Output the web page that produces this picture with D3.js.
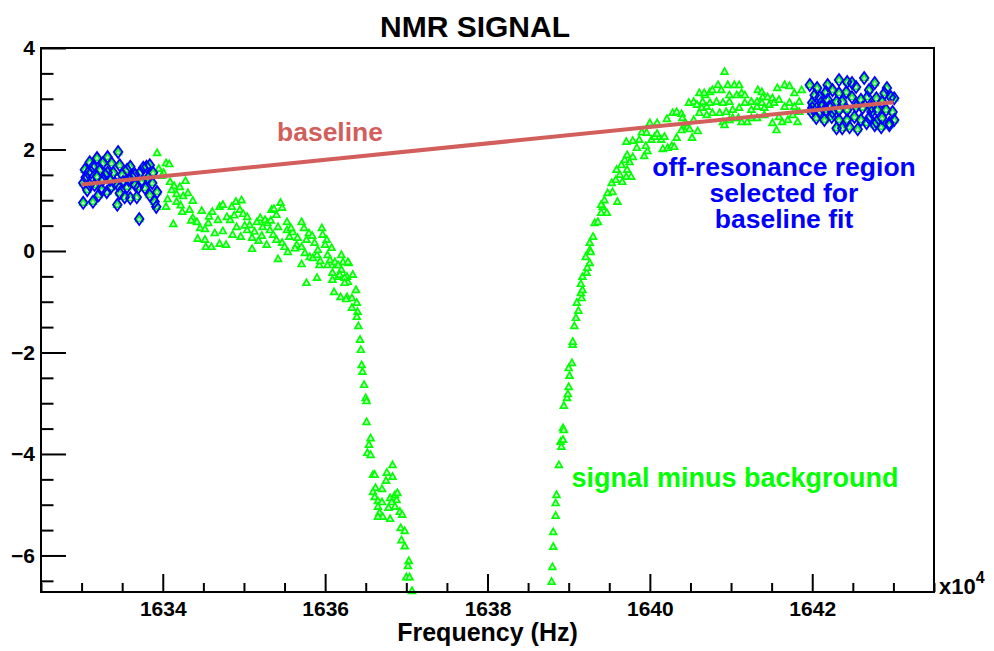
<!DOCTYPE html>
<html>
<head>
<meta charset="utf-8">
<script src="https://cdn.jsdelivr.net/npm/d3@7"></script>
<style>
  html, body { margin: 0; padding: 0; background: #fff; }
  svg text { font-family: "Liberation Sans", Arial, Helvetica, sans-serif; font-weight: bold; }
</style>
</head>
<body>
<svg id="chart" width="994" height="651"></svg>
<script>
// frequency in units of 10^4 Hz, signal in arbitrary units
const offResLow = [
  [1633.02, 1.34], [1633.07, 1.20], [1633.02, 0.95], [1633.14, 0.97], [1633.10, 1.75],
  [1633.19, 1.83], [1633.14, 1.66], [1633.08, 1.54], [1633.19, 1.46], [1633.23, 1.60],
  [1633.16, 1.30], [1633.25, 1.20], [1633.31, 1.16], [1633.32, 1.85], [1633.37, 1.73],
  [1633.32, 1.54], [1633.39, 1.54], [1633.41, 1.34], [1633.45, 1.95], [1633.47, 1.69],
  [1633.50, 1.50], [1633.51, 1.36], [1633.44, 0.91], [1633.47, 1.14], [1633.53, 1.06],
  [1633.56, 1.60], [1633.60, 1.66], [1633.62, 1.46], [1633.66, 1.30], [1633.72, 1.54],
  [1633.76, 1.64], [1633.80, 1.66], [1633.84, 1.69], [1633.88, 1.54], [1633.82, 1.44],
  [1633.74, 1.36], [1633.78, 1.24], [1633.87, 1.34], [1633.93, 1.16], [1633.90, 0.97],
  [1633.92, 0.87], [1633.60, 1.04], [1633.68, 1.06], [1633.71, 0.63], [1633.04, 1.60],
  [1633.26, 1.73], [1633.56, 1.26], [1633.35, 1.40], [1633.26, 1.40], [1633.10, 1.30],
  [1633.29, 1.50], [1633.45, 1.30], [1633.66, 1.50], [1633.84, 1.10], [1633.21, 1.10],
  [1633.05, 1.45], [1633.12, 1.55], [1633.36, 1.25], [1633.58, 1.40], [1633.70, 1.25]
];

const offResHigh = [
  [1641.97, 3.27], [1642.06, 3.21], [1642.03, 3.07], [1642.09, 3.03], [1642.17, 3.13],
  [1642.19, 3.27], [1642.33, 3.37], [1642.25, 3.17], [1642.33, 3.11], [1642.43, 3.33],
  [1642.49, 3.31], [1642.54, 3.23], [1642.42, 3.13], [1642.64, 3.41], [1642.77, 3.31],
  [1642.70, 3.17], [1642.92, 3.21], [1642.89, 3.11], [1643.01, 3.01], [1642.97, 3.03],
  [1642.00, 2.92], [1642.11, 2.92], [1642.19, 2.98], [1642.30, 2.94], [1642.37, 2.94],
  [1642.49, 3.03], [1642.60, 2.98], [1642.68, 3.03], [1642.79, 3.01], [1642.86, 2.94],
  [1641.99, 2.74], [1642.09, 2.74], [1642.17, 2.78], [1642.25, 2.74], [1642.33, 2.78],
  [1642.43, 2.78], [1642.54, 2.84], [1642.62, 2.82], [1642.73, 2.84], [1642.80, 2.78],
  [1642.91, 2.78], [1642.99, 2.74], [1642.05, 2.62], [1642.15, 2.58], [1642.24, 2.64],
  [1642.33, 2.58], [1642.43, 2.58], [1642.52, 2.64], [1642.60, 2.58], [1642.70, 2.62],
  [1642.79, 2.54], [1642.86, 2.62], [1642.95, 2.52], [1643.01, 2.58], [1642.30, 2.42],
  [1642.37, 2.42], [1642.46, 2.44], [1642.56, 2.40], [1642.67, 2.52], [1642.77, 2.48],
  [1642.85, 2.44], [1642.95, 2.48], [1642.00, 2.82], [1642.12, 2.84], [1642.21, 2.84],
  [1642.73, 2.74]
];

const shoulder = [
  [1633.93, 1.93], [1634.04, 1.73], [1634.08, 1.71], [1633.95, 1.62], [1634.01, 1.54],
  [1633.99, 1.48], [1634.09, 1.36], [1634.14, 1.28], [1634.21, 1.26], [1634.28, 1.38],
  [1634.11, 1.20], [1634.17, 1.12], [1634.25, 1.08], [1634.31, 1.14], [1634.04, 0.87],
  [1634.06, 1.02], [1634.17, 0.97], [1634.24, 0.77], [1634.37, 0.99], [1634.13, 0.53],
  [1634.33, 0.81], [1634.37, 0.65], [1634.42, 0.57], [1634.48, 0.79], [1634.46, 0.45],
  [1634.52, 0.43], [1634.43, 0.24], [1634.52, 0.22], [1634.53, 0.08], [1634.60, 0.08],
  [1634.61, 0.77], [1634.68, 0.61], [1634.70, 0.87], [1634.74, 0.91], [1634.79, 0.67],
  [1634.83, 0.61], [1634.85, 0.87], [1634.90, 0.97], [1634.95, 0.81], [1634.97, 1.00],
  [1634.99, 0.73], [1635.04, 0.67], [1634.91, 0.47], [1634.86, 0.32], [1634.96, 0.28],
  [1634.74, 0.39], [1634.70, 0.14], [1634.78, 0.12], [1635.07, 0.51], [1635.04, 0.41],
  [1635.10, 0.26], [1635.16, 0.57], [1635.20, 0.65], [1635.23, 0.47], [1635.26, 0.61],
  [1635.29, 0.55], [1635.10, 0.04], [1635.34, 0.81], [1635.37, 0.83], [1635.40, 0.71],
  [1635.45, 0.95], [1635.47, 0.85], [1635.32, 0.41], [1635.36, 0.32], [1635.28, 0.12],
  [1635.42, 0.47], [1635.40, 0.22], [1635.47, 0.16], [1635.42, -0.16], [1635.53, 0.57],
  [1635.53, 0.41], [1635.56, 0.28], [1635.60, 0.37], [1635.50, 0.08], [1635.54, -0.02],
  [1635.65, 0.12], [1635.66, 0.26], [1635.71, 0.57], [1635.74, 0.45], [1635.77, 0.22],
  [1635.80, 0.35], [1635.71, 0.08], [1635.75, -0.04], [1635.81, -0.12], [1635.85, -0.14],
  [1635.90, -0.08], [1635.91, 0.02], [1635.87, 0.16], [1635.96, 0.45], [1635.97, 0.32],
  [1636.02, 0.22], [1636.00, 0.12], [1636.03, -0.08], [1636.06, -0.18], [1636.08, 0.06],
  [1635.71, -0.26], [1635.77, -0.63], [1635.90, -0.53], [1635.93, -0.28], [1636.03, -0.28],
  [1636.09, -0.43], [1636.14, -0.28], [1636.16, -0.51], [1636.20, -0.08], [1636.22, -0.22],
  [1636.20, -0.37], [1636.27, -0.51], [1636.29, -0.24], [1636.28, -0.61], [1636.34, -0.47],
  [1636.11, -0.81], [1636.19, -0.91], [1636.27, -0.91], [1636.33, -0.93], [1636.38, -0.77],
  [1634.35, 0.60], [1634.56, 0.55], [1634.64, 0.35], [1634.88, 0.70], [1635.01, 0.50],
  [1635.13, 0.38], [1635.18, 0.20], [1635.33, 0.60], [1635.58, 0.45], [1635.63, 0.05],
  [1635.84, 0.30], [1635.94, -0.20], [1634.22, 0.90], [1634.57, 0.68], [1635.22, 0.30]
];

const dipLow = [
  [1636.12, -0.22], [1636.16, -0.28], [1636.28, -0.22], [1636.18, -0.47], [1636.24, -0.53],
  [1636.09, -0.57], [1636.24, -0.63], [1636.26, -0.95], [1636.33, -1.12], [1636.39, -1.02],
  [1636.40, -1.20], [1636.39, -1.30], [1636.41, -1.48], [1636.43, -1.75], [1636.44, -1.95],
  [1636.45, -2.25], [1636.46, -2.38], [1636.48, -2.64], [1636.50, -2.90], [1636.51, -2.96],
  [1636.51, -3.37], [1636.56, -3.69], [1636.54, -3.82], [1636.52, -3.98], [1636.56, -4.02],
  [1636.59, -4.41], [1636.61, -4.41], [1636.83, -4.22], [1636.76, -4.37], [1636.83, -4.45],
  [1636.75, -4.53], [1636.62, -4.67], [1636.59, -4.75], [1636.70, -4.69], [1636.61, -4.85],
  [1636.65, -4.93], [1636.70, -4.95], [1636.80, -4.87], [1636.86, -4.81], [1636.89, -4.77],
  [1636.88, -4.91], [1636.82, -4.95], [1636.78, -5.06], [1636.86, -5.04], [1636.65, -5.04],
  [1636.67, -5.16], [1636.71, -5.24], [1636.65, -5.24], [1636.80, -5.28], [1636.92, -5.14],
  [1636.95, -5.20], [1636.93, -5.46], [1636.98, -5.52], [1636.94, -5.70], [1636.98, -5.82],
  [1637.03, -6.11], [1637.02, -6.21], [1637.00, -6.43], [1637.04, -6.43], [1637.07, -6.70]
];

const riseHigh = [
  [1638.79, -6.52], [1638.80, -6.23], [1638.81, -5.83], [1638.81, -5.54], [1638.84, -5.22],
  [1638.84, -4.97], [1638.85, -4.81], [1638.88, -4.22], [1638.91, -3.86], [1638.90, -3.76],
  [1638.93, -3.72], [1638.93, -3.49], [1638.94, -3.53], [1638.94, -3.05], [1638.98, -2.90],
  [1638.99, -2.82], [1639.00, -2.68], [1639.01, -2.46], [1639.00, -2.31], [1639.04, -2.21],
  [1639.05, -1.85], [1639.05, -1.79], [1639.07, -1.48], [1639.09, -1.32], [1639.12, -1.18],
  [1639.10, -1.02], [1639.16, -0.93], [1639.15, -0.83], [1639.17, -0.77], [1639.15, -0.65],
  [1639.17, -0.51], [1639.22, -0.43], [1639.23, -0.33], [1639.26, -0.24], [1639.21, -0.12],
  [1639.26, 0.02], [1639.26, 0.16], [1639.30, 0.28], [1639.27, -0.02], [1639.32, 0.55],
  [1639.36, 0.57], [1639.40, 0.75], [1639.42, 0.87], [1639.47, 0.75], [1639.40, 0.91],
  [1639.44, 1.00], [1639.48, 1.14], [1639.54, 1.16], [1639.60, 0.97], [1639.53, 1.34],
  [1639.58, 1.40], [1639.63, 1.50], [1639.59, 1.60], [1639.66, 1.36], [1639.71, 1.46],
  [1639.77, 1.46], [1639.72, 1.60], [1639.75, 1.75], [1639.69, 1.79], [1639.65, 1.69],
  [1639.72, 1.89], [1639.79, 1.85], [1639.84, 2.03], [1639.71, 2.15], [1639.79, 2.17],
  [1639.87, 2.19], [1639.93, 1.87], [1639.97, 1.97], [1639.95, 2.07], [1639.90, 2.34],
  [1639.96, 2.33], [1640.00, 2.52], [1640.02, 2.19], [1640.06, 2.25], [1640.09, 2.31],
  [1640.14, 2.19], [1640.18, 2.25], [1640.16, 2.01], [1640.22, 2.03], [1640.27, 2.07],
  [1640.30, 2.05], [1640.33, 2.23], [1640.21, 2.60], [1640.09, 2.52], [1640.28, 2.72],
  [1640.33, 2.74], [1640.39, 2.70], [1640.40, 2.62], [1640.43, 2.48], [1640.46, 2.44],
  [1640.52, 2.23], [1640.49, 2.40], [1640.54, 2.94], [1640.58, 2.88], [1640.61, 3.11],
  [1640.64, 2.82], [1640.65, 2.94], [1640.68, 3.07], [1640.70, 2.84], [1640.59, 2.36]
];

const plateau = [
  [1640.44, 2.52], [1640.39, 2.38], [1640.54, 2.58], [1640.48, 2.92], [1640.67, 3.11],
  [1640.74, 3.13], [1640.77, 3.17], [1640.84, 3.27], [1640.88, 3.17], [1640.92, 3.53],
  [1640.96, 3.27], [1641.04, 3.27], [1641.10, 3.27], [1640.98, 3.07], [1641.07, 3.07],
  [1641.13, 3.11], [1641.17, 3.07], [1640.74, 2.92], [1640.82, 2.94], [1640.90, 2.92],
  [1640.98, 2.94], [1640.77, 2.72], [1640.86, 2.72], [1640.94, 2.74], [1641.02, 2.78],
  [1641.10, 2.82], [1641.17, 2.92], [1640.61, 2.72], [1640.70, 2.68], [1640.90, 2.54],
  [1640.98, 2.58], [1640.92, 2.48], [1641.02, 2.62], [1641.33, 3.17], [1641.38, 3.13],
  [1641.25, 2.94], [1641.32, 2.94], [1641.39, 3.03], [1641.45, 3.03], [1641.51, 3.01],
  [1641.57, 3.21], [1641.66, 3.27], [1641.72, 3.25], [1641.78, 3.11], [1641.87, 3.17],
  [1641.25, 2.78], [1641.32, 2.84], [1641.38, 2.92], [1641.41, 2.82], [1641.47, 2.88],
  [1641.53, 2.92], [1641.59, 2.98], [1641.66, 2.84], [1641.72, 2.92], [1641.78, 2.84],
  [1641.84, 2.94], [1641.25, 2.62], [1641.32, 2.62], [1641.41, 2.68], [1641.51, 2.52],
  [1641.59, 2.64], [1641.56, 2.38], [1641.63, 2.54], [1641.70, 2.58], [1641.76, 2.68],
  [1641.82, 2.54], [1641.84, 2.74], [1641.20, 2.54], [1641.09, 2.62], [1641.13, 2.54]
];

const baselineFit = [[1633.0, 1.31], [1643.0, 2.93]];

const xMajorTicks = [1634, 1636, 1638, 1640, 1642];
const yMajorTicks = [-6, -4, -2, 0, 2, 4];
const xDomain = [1632.5, 1643.5];
const yDomain = [-6.72, 4];

const titleText = 'NMR SIGNAL';
const xTitleText = 'Frequency (Hz)';
const offResLines = ['off-resonance region', 'selected for', 'baseline fit'];

(function () {
  'use strict';
  const svg = d3.select('#chart');
  const frame = { left: 41, right: 934, top: 48, bottom: 592 };

  const x = d3.scaleLinear().domain(xDomain).range([frame.left, frame.right]);
  const y = d3.scaleLinear().domain(yDomain).range([frame.bottom, frame.top]);

  function minorTicks(domain, step) {
    const out = [];
    const start = Math.ceil(domain[0] / step) * step;
    for (let v = start; v <= domain[1] + 1e-9; v += step) out.push(+v.toFixed(4));
    return out;
  }
  const xMinor = minorTicks(xDomain, 0.5).filter(function (v) { return xMajorTicks.indexOf(v) < 0; });
  const yMinor = minorTicks(yDomain, 0.5).filter(function (v) { return yMajorTicks.indexOf(v) < 0; });

  svg.append('rect').attr('width', 994).attr('height', 651).attr('fill', '#fff');

  // signal points (green open triangles), all regions
  const signal = offResLow.concat(shoulder, dipLow, riseHigh, plateau, offResHigh);
  const tri = 'M0,-3.8L3.4,2.3L-3.4,2.3Z';
  svg.append('g').selectAll('path').data(signal).join('path')
    .attr('d', tri)
    .attr('transform', function (d) { return 'translate(' + x(d[0]) + ',' + y(d[1]) + ')'; })
    .attr('fill', '#c8ffc8')
    .attr('stroke', '#00ff00')
    .attr('stroke-width', 1.7);

  // off-resonance points (blue open diamonds)
  const dia = 'M0,-6L4.3,0L0,6L-4.3,0Z';
  svg.append('g').selectAll('path').data(offResLow.concat(offResHigh)).join('path')
    .attr('d', dia)
    .attr('transform', function (d) { return 'translate(' + x(d[0]) + ',' + y(d[1]) + ')'; })
    .attr('fill', 'none')
    .attr('stroke', '#0000ff')
    .attr('stroke-width', 1.8);

  // baseline fit
  svg.append('path')
    .datum(baselineFit)
    .attr('d', d3.line().x(function (d) { return x(d[0]); }).y(function (d) { return y(d[1]); }))
    .attr('fill', 'none')
    .attr('stroke', '#d25f5b')
    .attr('stroke-width', 4);

  // frame
  svg.append('rect')
    .attr('x', frame.left).attr('y', frame.top)
    .attr('width', frame.right - frame.left).attr('height', frame.bottom - frame.top)
    .attr('fill', 'none').attr('stroke', '#000').attr('stroke-width', 2);

  function styleTicks(g) {
    g.select('.domain').remove();
    g.selectAll('.tick line').attr('stroke', '#000').attr('stroke-width', 2);
  }
  function styleLabels(g) {
    g.select('.domain').remove();
    g.selectAll('text').attr('font-size', 21).attr('fill', '#000')
      .style('font-family', '"Liberation Sans", Arial, sans-serif').style('font-weight', 'bold');
  }

  // y axis ticks (inward) and labels
  svg.append('g').attr('transform', 'translate(' + frame.left + ',0)')
    .call(d3.axisRight(y).tickValues(yMajorTicks).tickSize(25).tickFormat(''))
    .call(styleTicks);
  svg.append('g').attr('transform', 'translate(' + frame.left + ',0)')
    .call(d3.axisRight(y).tickValues(yMinor).tickSize(12.5).tickFormat(''))
    .call(styleTicks);
  svg.append('g').attr('transform', 'translate(' + frame.left + ',0)')
    .call(d3.axisLeft(y).tickValues(yMajorTicks).tickSize(0).tickPadding(6).tickFormat(d3.format('d')))
    .call(styleLabels);

  // x axis ticks (inward) and labels
  svg.append('g').attr('transform', 'translate(0,' + frame.bottom + ')')
    .call(d3.axisTop(x).tickValues(xMajorTicks).tickSize(18).tickFormat(''))
    .call(styleTicks);
  svg.append('g').attr('transform', 'translate(0,' + frame.bottom + ')')
    .call(d3.axisTop(x).tickValues(xMinor).tickSize(9).tickFormat(''))
    .call(styleTicks);
  svg.append('g').attr('transform', 'translate(0,' + frame.bottom + ')')
    .call(d3.axisBottom(x).tickValues(xMajorTicks).tickSize(0).tickPadding(9).tickFormat(d3.format('d')))
    .call(styleLabels);

  // exponent label
  const expo = svg.append('text').attr('x', 939).attr('y', 594).attr('font-size', 22).attr('fill', '#000');
  expo.append('tspan').text('x10');
  expo.append('tspan').attr('dy', -11).attr('font-size', 16).text('4');

  // titles
  svg.append('text').attr('x', 475).attr('y', 37).attr('text-anchor', 'middle')
    .attr('font-size', 30).attr('fill', '#000').text(titleText);
  svg.append('text').attr('x', (frame.left + frame.right) / 2).attr('y', 641).attr('text-anchor', 'middle')
    .attr('font-size', 25).attr('fill', '#000').text(xTitleText);

  // annotations
  svg.append('text').attr('x', 330).attr('y', 141).attr('text-anchor', 'middle')
    .attr('font-size', 26.5).attr('fill', '#d25f5b').text('baseline');
  svg.append('g').selectAll('text').data(offResLines).join('text')
    .attr('x', 784).attr('y', function (d, i) { return 176 + i * 26; })
    .attr('text-anchor', 'middle').attr('font-size', 26.5).attr('fill', '#0000ff')
    .text(function (d) { return d; });
  svg.append('text').attr('x', 735).attr('y', 487).attr('text-anchor', 'middle')
    .attr('font-size', 27).attr('fill', '#00ff00').text('signal minus background');
})();
</script>
</body>
</html>
